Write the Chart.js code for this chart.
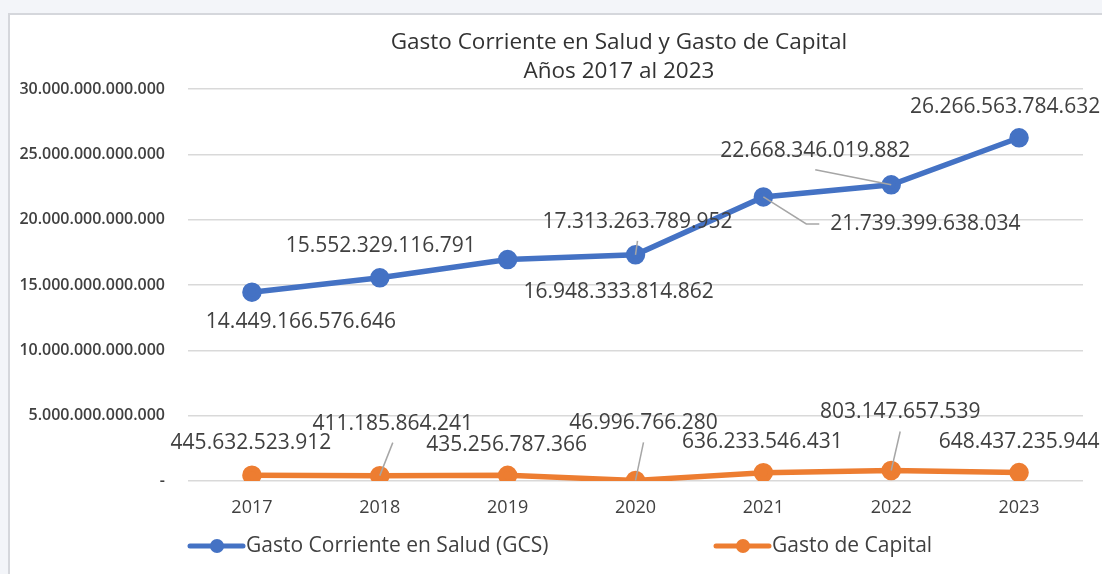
<!DOCTYPE html>
<html>
<head>
<meta charset="utf-8">
<script src="https://cdn.jsdelivr.net/npm/chart.js@4.4.1/dist/chart.umd.min.js"></script>
<style>
    body { margin: 0; background: #f3f5f9; width: 1102px; height: 574px; overflow: hidden; position: relative; }
    #box { position: absolute; left: 8px; top: 13px; width: 1100px; height: 570px; background: #fff; border-left: 2px solid #d5d7dc; border-top: 2px solid #d5d7dc; }
    #chart { position: absolute; left: 0; top: 0; }
</style>
</head>
<body>
<div id="box"></div>
<canvas id="chart" width="1102" height="574"></canvas>
<script>
        // Data
        const years = ['2017', '2018', '2019', '2020', '2021', '2022', '2023'];
        const gastoCorriente = [14449166576646, 15552329116791, 16948333814862, 17313263789952, 21739399638034, 22668346019882, 26266563784632];
        const gastoCapital = [445632523912, 411185864241, 435256787366, 46996766280, 636233546431, 803147657539, 648437235944];
        const seriesNames = ['Gasto Corriente en Salud (GCS)', 'Gasto de Capital'];
        const titleLines = ['Gasto Corriente en Salud y Gasto de Capital', 'Años 2017 al 2023'];

        const BLUE = '#4472c4';
        const ORANGE = '#ed7d31';
        const TEXT = '#404040';
        const FONT = '"Open Sans", sans-serif';

        function fmt(v) {
            if (v === 0) return '-';
            return String(Math.round(v)).replace(/\B(?=(\d{3})+(?!\d))/g, '.');
        }

        // label offsets (px from point) and leader line style, per dataset
        const labelPlacement = [
            [
                { dx: 49, dy: 30 }, { dx: 1, dy: -32 }, { dx: 111, dy: 32 }, { dx: 2, dy: -33, leader: 'bottom' },
                { dx: 162, dy: 27, leader: 'left' }, { dx: -76, dy: -34, leader: 'bottom' }, { dx: -14, dy: -31 }
            ],
            [
                { dx: -1, dy: -32 }, { dx: 13, dy: -52, leader: 'bottom' }, { dx: -1, dy: -30 }, { dx: 8, dy: -57, leader: 'bottom' },
                { dx: -1, dy: -31 }, { dx: 9, dy: -58, leader: 'bottom' }, { dx: 0, dy: -31 }
            ]
        ];

        const titlePlugin = {
            id: 'twoLineTitle',
            afterDraw(chart) {
                const ctx = chart.ctx;
                ctx.save();
                ctx.fillStyle = '#333';
                ctx.font = '22.5px ' + FONT;
                ctx.textAlign = 'center';
                ctx.textBaseline = 'middle';
                ctx.fillText(titleLines[0], 619, 43);
                ctx.fillText(titleLines[1], 619, 72);
                ctx.restore();
            }
        };

        const dataLabelPlugin = {
            id: 'dataLabels',
            afterDatasetsDraw(chart) {
                const ctx = chart.ctx;
                ctx.save();
                ctx.font = '21px ' + FONT;
                ctx.textAlign = 'center';
                ctx.textBaseline = 'middle';
                chart.data.datasets.forEach((ds, i) => {
                    const meta = chart.getDatasetMeta(i);
                    meta.data.forEach((pt, j) => {
                        const p = labelPlacement[i][j];
                        const text = fmt(ds.data[j]);
                        const cx = pt.x + p.dx;
                        const cy = pt.y + p.dy;
                        const w = ctx.measureText(text).width;
                        if (p.leader) {
                            ctx.strokeStyle = '#a6a6a6';
                            ctx.lineWidth = 1.5;
                            ctx.beginPath();
                            if (p.leader === 'bottom') {
                                ctx.moveTo(cx, cy + 19);
                                ctx.lineTo(pt.x, pt.y);
                            } else {
                                const left = cx - w / 2;
                                ctx.moveTo(pt.x, pt.y);
                                ctx.lineTo(left - 24, cy);
                                ctx.lineTo(left - 11, cy);
                            }
                            ctx.stroke();
                        }
                        ctx.fillStyle = TEXT;
                        ctx.fillText(text, cx, cy);
                    });
                });
                ctx.restore();
            }
        };

        const legendPlugin = {
            id: 'lineLegend',
            afterDraw(chart) {
                const ctx = chart.ctx;
                const items = [
                    { x: 190, color: BLUE, text: seriesNames[0] },
                    { x: 716, color: ORANGE, text: seriesNames[1] }
                ];
                ctx.save();
                ctx.font = '21px ' + FONT;
                ctx.textBaseline = 'middle';
                ctx.textAlign = 'left';
                items.forEach(it => {
                    const y = 546;
                    ctx.strokeStyle = it.color;
                    ctx.lineWidth = 5;
                    ctx.lineCap = 'round';
                    ctx.beginPath();
                    ctx.moveTo(it.x, y);
                    ctx.lineTo(it.x + 53, y);
                    ctx.stroke();
                    ctx.fillStyle = it.color;
                    ctx.beginPath();
                    ctx.arc(it.x + 27, y, 7, 0, Math.PI * 2);
                    ctx.fill();
                    ctx.fillStyle = TEXT;
                    ctx.fillText(it.text, it.x + 56, y);
                });
                ctx.restore();
            }
        };

        new Chart(document.getElementById('chart'), {
            type: 'line',
            data: {
                labels: years,
                datasets: [
                    {
                        label: seriesNames[0],
                        data: gastoCorriente,
                        borderColor: BLUE,
                        backgroundColor: BLUE,
                        borderWidth: 5.5,
                        pointRadius: 7,
                        pointBackgroundColor: BLUE,
                        pointBorderColor: BLUE,
                        tension: 0
                    },
                    {
                        label: seriesNames[1],
                        data: gastoCapital,
                        borderColor: ORANGE,
                        backgroundColor: ORANGE,
                        borderWidth: 5.5,
                        pointRadius: 7,
                        pointBackgroundColor: ORANGE,
                        pointBorderColor: ORANGE,
                        tension: 0
                    }
                ]
            },
            options: {
                responsive: false,
                animation: false,
                devicePixelRatio: 1,
                layout: { padding: { left: 0, right: 19, top: 89, bottom: 0 } },
                plugins: {
                    legend: { display: false },
                    title: { display: false },
                    tooltip: { enabled: false }
                },
                scales: {
                    x: {
                        offset: true,
                        grid: { display: false, drawTicks: false },
                        border: { display: false },
                        ticks: { color: TEXT, font: { family: FONT, size: 18 }, padding: 16 },
                        afterFit(s) { s.height = 93; }
                    },
                    y: {
                        min: 0,
                        max: 30000000000000,
                        grid: { color: '#d9d9d9', lineWidth: 1.5, drawTicks: false },
                        border: { display: false },
                        ticks: {
                            stepSize: 5000000000000,
                            color: TEXT,
                            padding: 23,
                            font: { family: FONT, size: 16, weight: '600' },
                            callback: v => fmt(v)
                        },
                        afterFit(s) { s.width = 188; }
                    }
                }
            },
            plugins: [titlePlugin, dataLabelPlugin, legendPlugin]
        });
</script>
</body>
</html>
